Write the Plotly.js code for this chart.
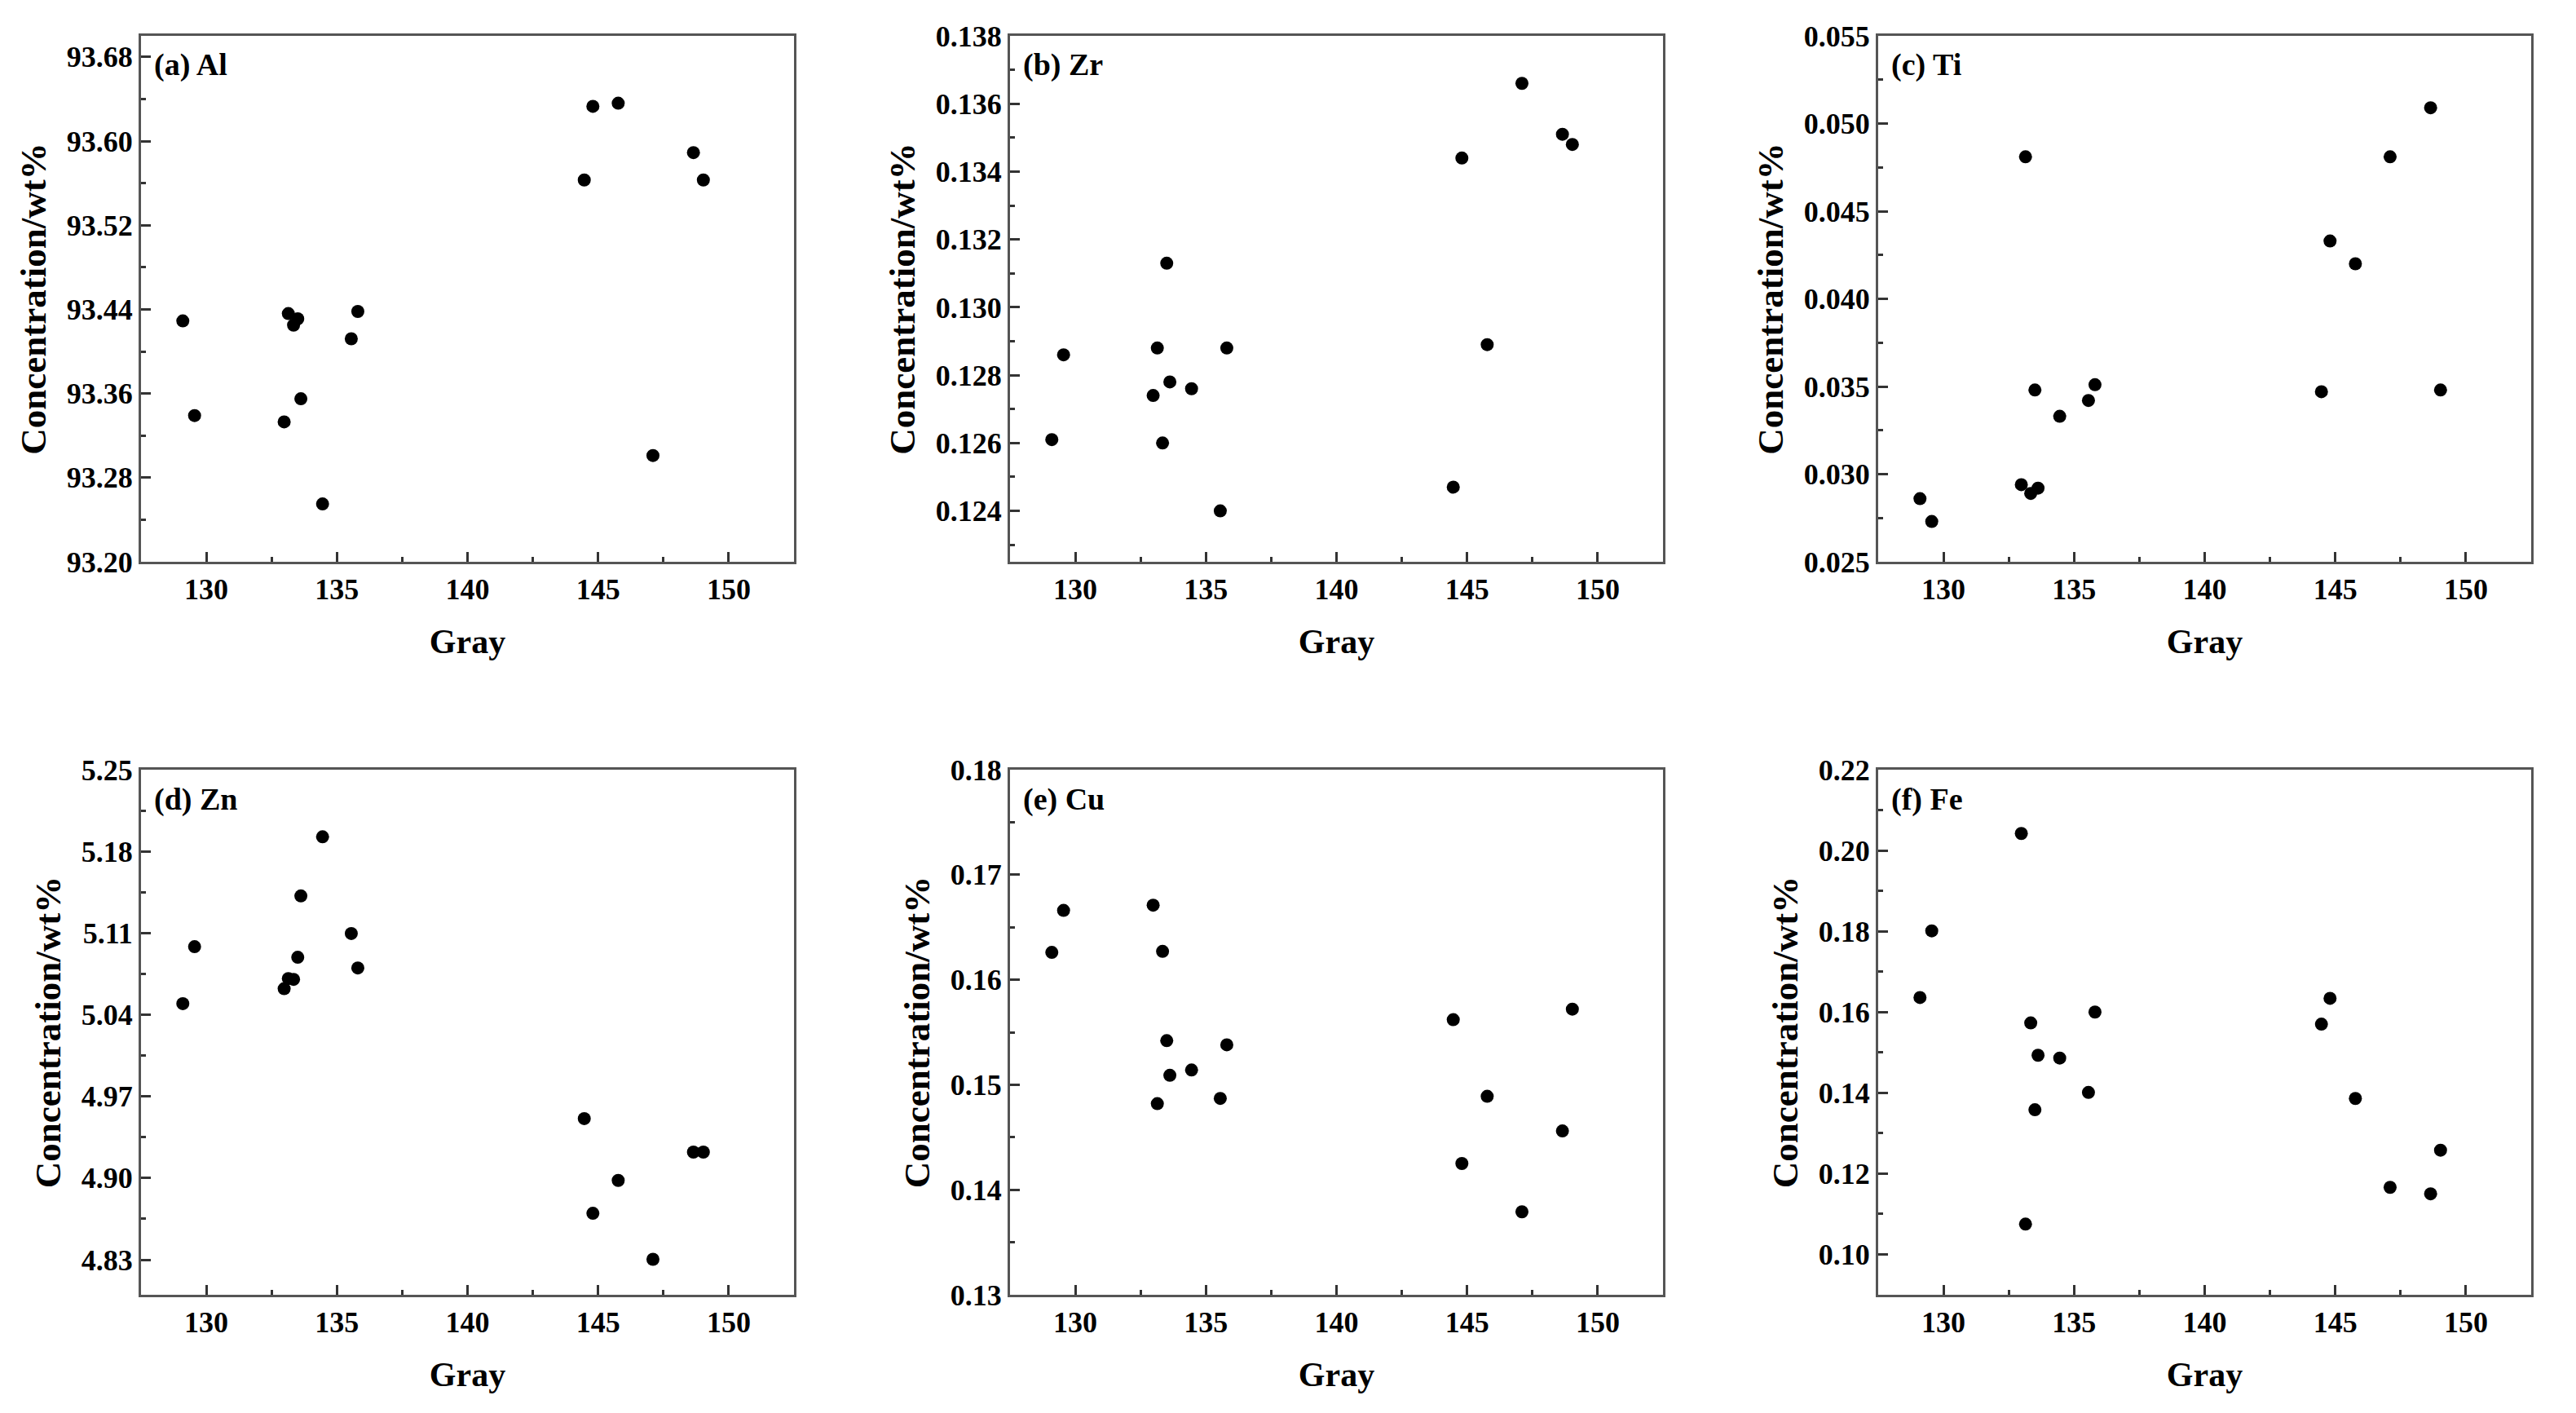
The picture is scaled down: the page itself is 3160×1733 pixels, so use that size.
<!DOCTYPE html>
<html>
<head>
<meta charset="utf-8">
<script src="https://cdn.plot.ly/plotly-3.0.1.min.js"></script>
<style>html,body{margin:0;padding:0;background:#fff;}#chart{width:3160px;height:1733px;}</style>
</head>
<body>
<div id="chart"></div>
<script>
// Gray value of each sample (shared x axis data)
const gray = [129.1, 129.55, 132.98, 133.14, 133.34, 133.5, 133.62, 134.45, 135.55, 135.8, 144.47, 144.8, 145.77, 147.1, 148.65, 149.03];

// Concentration (wt%) of each element per sample
const al = [93.429, 93.339, 93.333, 93.436, 93.425, 93.431, 93.355, 93.255, 93.412, 93.438, 93.563, 93.633, 93.636, 93.301, 93.589, 93.563];
const zr = [0.1261, 0.1286, 0.1274, 0.1288, 0.1260, 0.1313, 0.1278, 0.1276, 0.1240, 0.1288, 0.1247, 0.1344, 0.1289, 0.1366, 0.1351, 0.1348];
const ti = [0.0286, 0.0273, 0.0294, 0.0481, 0.0289, 0.0348, 0.0292, 0.0333, 0.0342, 0.0351, 0.0347, 0.0433, 0.0420, 0.0481, 0.0509, 0.0348];
const zn = [5.0495, 5.0983, 5.0623, 5.0710, 5.0703, 5.0892, 5.1418, 5.1925, 5.1096, 5.0801, 4.9510, 4.8698, 4.8980, 4.8304, 4.9223, 4.9223];
const cu = [0.1626, 0.1666, 0.1671, 0.1482, 0.1627, 0.1542, 0.1509, 0.1514, 0.1487, 0.1538, 0.1562, 0.1425, 0.1489, 0.1379, 0.1456, 0.1572];
const fe = [0.1636, 0.1801, 0.2042, 0.1075, 0.1573, 0.1358, 0.1493, 0.1486, 0.1401, 0.1600, 0.1570, 0.1634, 0.1386, 0.1166, 0.1150, 0.1258];

const panelLabels = ['(a) Al', '(b) Zr', '(c) Ti', '(d) Zn', '(e) Cu', '(f) Fe'];
const xTitle = 'Gray';
const yTitle = 'Concentration/wt%';

const series = [al, zr, ti, zn, cu, fe];

// axis setups (range, tick spacing, format) per panel
const ySpecs = [
  {range: [93.20, 93.70], tick0: 93.20, dtick: 0.08, fmt: '.2f'},
  {range: [0.1225, 0.138], tick0: 0.124, dtick: 0.002, fmt: '.3f'},
  {range: [0.025, 0.055], tick0: 0.025, dtick: 0.005, fmt: '.3f'},
  {range: [4.80, 5.25], tick0: 4.83, dtick: 0.07, fmt: '.2f'},
  {range: [0.13, 0.18], tick0: 0.13, dtick: 0.01, fmt: '.2f'},
  {range: [0.09, 0.22], tick0: 0.10, dtick: 0.02, fmt: '.2f'}
];

const W = 3160, H = 1733;
const colsPx = [[173, 974], [1239, 2040], [2304, 3105]];
const rowsPx = [[44, 689], [944, 1588]];

const FONT = "'Liberation Serif', 'Times New Roman', Times, serif";
const lineCol = '#555555';

const data = [];
const layout = {
  width: W, height: H,
  margin: {l: 0, r: 0, t: 0, b: 0},
  paper_bgcolor: '#ffffff',
  plot_bgcolor: '#ffffff',
  showlegend: false,
  font: {family: FONT, color: '#000'},
  annotations: []
};

for (let i = 0; i < 6; i++) {
  const r = Math.floor(i / 3), c = i % 3;
  const sfx = i === 0 ? '' : String(i + 1);
  const xa = 'x' + sfx, ya = 'y' + sfx;
  data.push({
    type: 'scatter', mode: 'markers',
    x: gray, y: series[i],
    xaxis: xa, yaxis: ya,
    marker: {color: '#000', size: 16, line: {width: 0}},
    cliponaxis: false
  });
  const sp = ySpecs[i];
  layout['xaxis' + sfx] = {
    domain: [colsPx[c][0] / W, colsPx[c][1] / W],
    anchor: ya,
    range: [127.5, 152.5],
    tick0: 130, dtick: 5, tickmode: 'linear',
    ticks: 'inside', ticklen: 12, tickwidth: 3, tickcolor: '#333',
    minor: {tick0: 127.5, dtick: 2.5, ticks: 'inside', ticklen: 6, tickwidth: 3, tickcolor: '#333', showgrid: false},
    showline: true, linecolor: lineCol, linewidth: 3, mirror: true,
    showgrid: false, zeroline: false,
    tickfont: {family: FONT, size: 36, color: '#000', weight: 'bold'},
    title: {text: xTitle, font: {family: FONT, size: 42, color: '#000', weight: 'bold'}, standoff: 30},
    automargin: false
  };
  layout['yaxis' + sfx] = {
    domain: [1 - rowsPx[r][1] / H, 1 - rowsPx[r][0] / H],
    anchor: xa,
    range: sp.range,
    tick0: sp.tick0, dtick: sp.dtick, tickmode: 'linear', tickformat: sp.fmt,
    ticks: 'inside', ticklen: 12, tickwidth: 3, tickcolor: '#333',
    minor: {tick0: sp.tick0, dtick: sp.dtick / 2, ticks: 'inside', ticklen: 6, tickwidth: 3, tickcolor: '#333', showgrid: false},
    showline: true, linecolor: lineCol, linewidth: 3, mirror: true,
    showgrid: false, zeroline: false,
    tickfont: {family: FONT, size: 36, color: '#000', weight: 'bold'},
    title: {text: yTitle, font: {family: FONT, size: 45, color: '#000', weight: 'bold'}, standoff: 12},
    automargin: false
  };
  layout.annotations.push({
    text: panelLabels[i],
    xref: xa + ' domain', yref: ya + ' domain',
    x: 0, y: 1, xanchor: 'left', yanchor: 'middle',
    xshift: 14, yshift: -36,
    showarrow: false,
    font: {family: FONT, size: 38, color: '#000', weight: 'bold'}
  });
}

Plotly.newPlot('chart', data, layout, {staticPlot: true, displayModeBar: false});
</script>
</body>
</html>
